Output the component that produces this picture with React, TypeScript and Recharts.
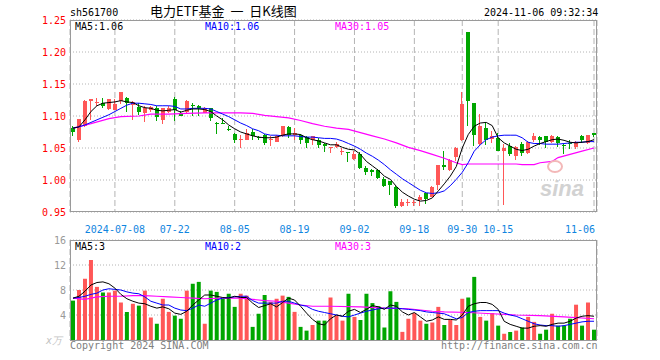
import React from "react";
import {
  ComposedChart,
  Bar,
  Line,
  XAxis,
  YAxis,
  CartesianGrid,
  Cell,
} from "recharts";

// trading days shown (2024-06-27 .. 2024-11-06)
const dates = [
  "2024-06-27", "2024-06-28",
  "2024-07-01", "2024-07-02", "2024-07-03", "2024-07-04", "2024-07-05",
  "2024-07-08", "2024-07-09", "2024-07-10", "2024-07-11", "2024-07-12",
  "2024-07-15", "2024-07-16", "2024-07-17", "2024-07-18", "2024-07-19",
  "2024-07-22", "2024-07-23", "2024-07-24", "2024-07-25", "2024-07-26",
  "2024-07-29", "2024-07-30", "2024-07-31", "2024-08-01", "2024-08-02",
  "2024-08-05", "2024-08-06", "2024-08-07", "2024-08-08", "2024-08-09",
  "2024-08-12", "2024-08-13", "2024-08-14", "2024-08-15", "2024-08-16",
  "2024-08-19", "2024-08-20", "2024-08-21", "2024-08-22", "2024-08-23",
  "2024-08-26", "2024-08-27", "2024-08-28", "2024-08-29", "2024-08-30",
  "2024-09-02", "2024-09-03", "2024-09-04", "2024-09-05", "2024-09-06",
  "2024-09-09", "2024-09-10", "2024-09-11", "2024-09-12", "2024-09-13",
  "2024-09-18", "2024-09-19", "2024-09-20",
  "2024-09-23", "2024-09-24", "2024-09-25", "2024-09-26", "2024-09-27",
  "2024-09-30",
  "2024-10-08", "2024-10-09", "2024-10-10", "2024-10-11",
  "2024-10-14", "2024-10-15", "2024-10-16", "2024-10-17", "2024-10-18",
  "2024-10-21", "2024-10-22", "2024-10-23", "2024-10-24", "2024-10-25",
  "2024-10-28", "2024-10-29", "2024-10-30", "2024-10-31", "2024-11-01",
  "2024-11-04", "2024-11-05", "2024-11-06",
];

const dateTicks = [
  "2024-07-08", "2024-07-22", "2024-08-05", "2024-08-19", "2024-09-02",
  "2024-09-18", "2024-09-30", "2024-10-15", "2024-11-06",
];

const opens = [
  1.082, 1.063, 1.084, 1.124, 1.121, 1.12, 1.111, 1.11, 1.124, 1.128, 1.117,
  1.114, 1.104, 1.11, 1.112, 1.094, 1.106, 1.126, 1.104, 1.107, 1.117, 1.116,
  1.105, 1.112, 1.089, 1.089, 1.08, 1.072, 1.062, 1.063, 1.075, 1.067, 1.071,
  1.062, 1.06, 1.068, 1.083, 1.071, 1.071, 1.067, 1.062, 1.063, 1.057, 1.05,
  1.052, 1.044, 1.044, 1.033, 1.041, 1.019, 1.016, 1.015, 1.002, 0.998, 0.989,
  0.959, 0.965, 0.965, 0.968, 0.979, 0.974, 0.992, 1.024, 1.015, 1.036, 1.062,
  1.232, 1.121, 1.057, 1.082, 1.064, 1.066, 1.046, 1.053, 1.038, 1.057, 1.042,
  1.062, 1.067, 1.068, 1.059, 1.067, 1.055, 1.058, 1.051, 1.069, 1.058, 1.073,
];
const highs = [
  1.085, 1.096, 1.125, 1.127, 1.128, 1.128, 1.127, 1.127, 1.138, 1.129, 1.123,
  1.12, 1.115, 1.116, 1.115, 1.113, 1.116, 1.129, 1.108, 1.125, 1.121, 1.117,
  1.114, 1.113, 1.09, 1.097, 1.085, 1.074, 1.071, 1.079, 1.079, 1.069, 1.072,
  1.068, 1.07, 1.085, 1.085, 1.081, 1.072, 1.068, 1.069, 1.065, 1.058, 1.051,
  1.059, 1.05, 1.044, 1.045, 1.043, 1.022, 1.017, 1.017, 1.004, 0.999, 0.991,
  0.97, 0.971, 0.968, 0.976, 0.98, 0.991, 1.024, 1.046, 1.033, 1.051, 1.137,
  1.232, 1.121, 1.103, 1.089, 1.076, 1.073, 1.057, 1.058, 1.053, 1.059, 1.061,
  1.073, 1.068, 1.069, 1.07, 1.068, 1.057, 1.063, 1.061, 1.07, 1.071, 1.074,
];
const lows = [
  1.069, 1.059, 1.083, 1.094, 1.115, 1.112, 1.11, 1.109, 1.118, 1.107, 1.094,
  1.102, 1.091, 1.106, 1.092, 1.087, 1.105, 1.092, 1.102, 1.105, 1.1, 1.1,
  1.104, 1.092, 1.072, 1.087, 1.076, 1.058, 1.05, 1.062, 1.063, 1.063, 1.055,
  1.053, 1.059, 1.067, 1.066, 1.063, 1.056, 1.05, 1.055, 1.05, 1.044, 1.042,
  1.05, 1.039, 1.028, 1.032, 1.017, 1.008, 1.006, 1.002, 0.989, 0.976, 0.956,
  0.958, 0.96, 0.96, 0.959, 0.963, 0.973, 0.985, 1.016, 1.014, 1.029, 1.061,
  1.084, 1.053, 1.054, 1.054, 1.058, 1.045, 0.961, 1.038, 1.031, 1.037, 1.04,
  1.06, 1.055, 1.05, 1.058, 1.052, 1.04, 1.048, 1.048, 1.058, 1.056, 1.067,
];
const closes = [
  1.075, 1.096, 1.124, 1.127, 1.122, 1.115, 1.126, 1.119, 1.138, 1.12, 1.122,
  1.107, 1.112, 1.114, 1.099, 1.112, 1.112, 1.109, 1.1, 1.123, 1.115, 1.112,
  1.113, 1.097, 1.088, 1.088, 1.078, 1.062, 1.064, 1.074, 1.068, 1.065, 1.058,
  1.064, 1.069, 1.084, 1.071, 1.073, 1.063, 1.058, 1.068, 1.055, 1.053, 1.051,
  1.056, 1.045, 1.043, 1.04, 1.019, 1.012, 1.012, 1.003, 0.99, 0.992, 0.96,
  0.965, 0.966, 0.966, 0.974, 0.97, 0.989, 1.024, 1.02, 1.032, 1.05, 1.119,
  1.124, 1.071, 1.085, 1.063, 1.068, 1.046, 1.05, 1.04, 1.051, 1.042, 1.06,
  1.068, 1.063, 1.059, 1.069, 1.058, 1.053, 1.057, 1.059, 1.063, 1.071, 1.071,
];

// volume, 万手
const volumes = [
  6.3, 8.0, 9.8, 12.8, 8.5, 7.6, 7.6, 7.9, 6.0, 4.5, 5.8, 5.5, 7.9, 3.6, 2.6,
  6.6, 4.5, 3.9, 3.4, 7.9, 9.0, 9.3, 2.6, 7.9, 7.7, 6.6, 7.4, 5.3, 7.4, 7.1,
  2.1, 4.2, 7.2, 6.1, 6.6, 7.1, 6.9, 4.5, 2.1, 1.5, 2.4, 3.1, 3.1, 6.8, 3.9,
  3.1, 7.4, 3.7, 3.2, 7.4, 5.9, 5.4, 2.0, 7.8, 6.1, 1.3, 3.4, 4.3, 3.1, 2.6,
  2.8, 5.3, 2.4, 3.2, 2.4, 6.6, 6.8, 10.1, 3.7, 3.1, 4.3, 2.3, 1.0, 1.3, 1.5,
  2.0, 3.7, 2.9, 1.0, 1.65, 4.2, 2.3, 2.3, 3.4, 5.65, 2.3, 6.0, 1.65,
];

const ma5 = [
  1.081, 1.083, 1.094, 1.107, 1.116, 1.12, 1.121, 1.122, 1.124, 1.122, 1.121,
  1.116, 1.113, 1.112, 1.109, 1.108, 1.109, 1.11, 1.106, 1.109, 1.111, 1.111,
  1.11, 1.107, 1.1, 1.094, 1.086, 1.08, 1.075, 1.072, 1.069, 1.067, 1.066,
  1.066, 1.067, 1.07, 1.072, 1.072, 1.071, 1.066, 1.063, 1.061, 1.058, 1.055,
  1.055, 1.051, 1.048, 1.047, 1.04, 1.029, 1.022, 1.015, 1.006, 1.001, 0.99,
  0.981, 0.975, 0.97, 0.967, 0.968, 0.972, 0.983, 0.994, 1.006, 1.021, 1.05,
  1.071, 1.084, 1.089, 1.09, 1.085, 1.066, 1.058, 1.053, 1.048, 1.046, 1.048,
  1.053, 1.057, 1.06, 1.063, 1.064, 1.062, 1.059, 1.058, 1.059, 1.06, 1.063,
];
const ma10 = [
  1.081, 1.083, 1.086, 1.09, 1.094, 1.098, 1.102, 1.107, 1.112, 1.117, 1.12,
  1.12, 1.119, 1.118, 1.116, 1.116, 1.116, 1.115, 1.111, 1.111, 1.112, 1.112,
  1.112, 1.111, 1.107, 1.103, 1.099, 1.094, 1.089, 1.085, 1.08, 1.077, 1.072,
  1.07, 1.07, 1.069, 1.069, 1.069, 1.068, 1.067, 1.067, 1.066, 1.065, 1.065,
  1.064, 1.061, 1.057, 1.053, 1.048, 1.042, 1.037, 1.031, 1.024, 1.016, 1.009,
  1.002, 0.996, 0.99, 0.984, 0.98, 0.979, 0.98, 0.983, 0.991, 1.001, 1.012,
  1.027, 1.045, 1.055, 1.063, 1.067, 1.069, 1.07, 1.07, 1.07, 1.066, 1.059,
  1.057, 1.057, 1.056, 1.056, 1.056, 1.057, 1.058, 1.059, 1.059, 1.06, 1.06,
];
// [day index, value] read where the line is clear
const ma30: [number, number][] = [
  [0, 1.081], [3, 1.088], [6, 1.096], [8, 1.099], [11, 1.1], [13, 1.103],
  [16, 1.103], [19, 1.104], [22, 1.105], [25, 1.105], [28, 1.105],
  [30, 1.104], [32, 1.101], [34, 1.099], [36, 1.097], [38, 1.093],
  [40, 1.088], [42, 1.084], [44, 1.081], [46, 1.079], [48, 1.074],
  [50, 1.069], [52, 1.064], [54, 1.058], [56, 1.051], [58, 1.046],
  [60, 1.04], [62, 1.034], [64, 1.027], [65, 1.024], [66, 1.025],
  [70, 1.025], [74, 1.025], [75, 1.024], [77, 1.024], [78, 1.027],
  [80, 1.029], [81, 1.035], [83, 1.04], [85, 1.045], [87, 1.05],
];

const volMa5 = [
  6.7, 7.0, 7.8, 8.8, 9.2, 9.3, 9.0, 8.3, 7.3, 6.6, 6.2, 5.9, 5.8, 5.4, 5.1,
  5.3, 5.0, 4.3, 4.1, 4.6, 5.6, 6.4, 7.2, 7.2, 7.0, 6.8, 6.7, 7.0, 6.8, 6.8,
  5.9, 5.2, 5.5, 5.8, 5.3, 6.0, 6.7, 6.4, 5.4, 4.3, 3.3, 2.6, 2.4, 3.4, 4.0,
  3.8, 4.6, 4.9, 4.4, 4.9, 5.5, 5.3, 4.9, 5.6, 5.4, 4.5, 4.0, 4.4, 3.7, 3.0,
  3.2, 3.7, 3.3, 3.3, 3.2, 4.0, 5.4, 5.8, 6.0, 6.0, 5.7, 4.9, 3.0, 2.5, 2.2,
  1.9, 1.9, 2.2, 2.3, 2.2, 2.5, 2.7, 2.7, 3.0, 3.5, 3.8, 3.9, 3.8,
];
const volMa10 = [
  6.7, 6.8, 7.0, 7.3, 7.5, 8.0, 8.2, 8.1, 8.0, 7.7, 7.5, 7.4, 6.9, 6.2, 5.9,
  5.6, 5.6, 5.1, 4.8, 4.7, 5.1, 5.6, 5.4, 5.9, 6.4, 6.7, 6.8, 6.9, 7.0, 7.0,
  6.3, 5.9, 5.9, 5.9, 5.9, 6.2, 6.2, 5.9, 5.6, 5.4, 4.9, 4.6, 4.4, 4.2, 4.0,
  3.8, 3.7, 4.0, 4.3, 4.6, 4.8, 5.0, 5.1, 5.1, 5.1, 5.0, 4.9, 4.8, 4.7, 4.5,
  4.4, 4.3, 4.2, 3.8, 3.4, 3.6, 4.4, 4.6, 4.7, 4.7, 4.7, 4.7, 4.3, 4.0, 3.8,
  3.4, 3.0, 2.6, 2.4, 2.3, 2.3, 2.2, 2.3, 2.5, 2.7, 2.9, 3.0, 3.0,
];
const volMa30: [number, number][] = [
  [0, 6.7], [2, 6.5], [4, 6.9], [6, 7.0], [8, 7.0], [10, 7.1], [12, 7.1],
  [14, 7.0], [16, 6.9], [18, 6.8], [20, 6.7], [22, 6.6], [25, 6.7],
  [28, 6.7], [30, 6.5], [32, 6.3], [34, 6.2], [36, 5.9], [38, 5.6],
  [40, 5.4], [43, 5.4], [48, 5.3], [52, 5.1], [56, 5.0], [58, 4.8],
  [60, 4.6], [62, 4.5], [66, 4.4], [70, 4.2], [74, 4.0], [78, 3.9],
  [82, 3.7], [87, 3.4],
];

const priceTicks = [0.95, 1.0, 1.05, 1.1, 1.15, 1.2, 1.25];
const volumeTicks = [0, 4, 8, 12, 16];

const RED = "#ff5757";
const GREEN = "#00a600";
const MONO = "'DejaVu Sans Mono', monospace";
const GRID = "#b4b4b4";
const BORDER = "#9a9a9a";

const ma30ByDay = new Map(ma30);
const volMa30ByDay = new Map(volMa30);

const rows = dates.map((date, i) => ({
  date,
  open: opens[i],
  high: highs[i],
  low: lows[i],
  close: closes[i],
  vol: volumes[i],
  ma5: ma5[i],
  ma10: ma10[i],
  ma30: ma30ByDay.get(i) ?? null,
  vma5: volMa5[i],
  vma10: volMa10[i],
  vma30: volMa30ByDay.get(i) ?? null,
}));

const colorOf = (r: { open: number; close: number }) =>
  r.close >= r.open ? RED : GREEN;

function Candle(props: any) {
  const { x, width, payload } = props;
  let { y, height } = props;
  if (height < 0) {
    y += height;
    height = -height;
  }
  const { open, close, high, low } = payload;
  const k = high > low ? height / (high - low) : 0;
  const yOf = (v: number) => y + (high - v) * k;
  const top = yOf(Math.max(open, close));
  const bottom = yOf(Math.min(open, close));
  const cx = Math.round(x + width / 2) - 0.5;
  const color = colorOf(payload);
  return (
    <g shapeRendering="crispEdges">
      <line x1={cx} x2={cx} y1={y} y2={y + height} stroke={color} />
      <rect
        x={x}
        y={top}
        width={width}
        height={Math.max(1, bottom - top)}
        fill={color}
      />
    </g>
  );
}

function DateTick({ x, y, payload }: any) {
  const v: string = payload.value;
  const first = v === dateTicks[0];
  const last = v === dateTicks[dateTicks.length - 1];
  return (
    <text
      x={last ? x + 1 : x}
      y={y + 13}
      textAnchor={last ? "end" : "middle"}
      fill="#0f85e0"
      fontSize={10}
      fontFamily={MONO}
    >
      {first ? v : v.slice(5)}
    </text>
  );
}

function VolTick({ x, y, payload }: any) {
  if (payload.value === 0) {
    return (
      <text x={x - 4} y={y + 4} textAnchor="end" fill="#c4c4c4" fontSize={10} fontFamily={MONO} fontStyle="italic">
        x万
      </text>
    );
  }
  return (
    <text x={x} y={y} dy="0.355em" textAnchor="end" fill="#999" fontSize={10} fontFamily={MONO}>
      {payload.value}
    </text>
  );
}

const abs = (left: number, top: number, extra: React.CSSProperties = {}): React.CSSProperties => ({
  position: "absolute",
  left,
  top,
  whiteSpace: "pre",
  lineHeight: 1,
  ...extra,
});

export default function App() {
  return (
    <div
      style={{
        position: "absolute",
        left: 0,
        top: 0,
        width: 660,
        height: 360,
        background: "#fff",
        fontFamily: MONO,
        fontSize: 10,
        overflow: "hidden",
      }}
    >
      <div style={abs(70, 8)}>sh561700</div>
      <div style={abs(150, 4, { fontFamily: "'Noto Sans CJK SC', sans-serif", fontSize: 13 })}>
        {"电力ETF基金  一  日K线图"}
      </div>
      <div style={abs(484, 8)}>2024-11-06 09:32:34</div>

      <div style={{ position: "absolute", left: 0, top: 0 }}>
        <ComposedChart
          width={660}
          height={240}
          data={rows}
          margin={{ top: 20, right: 63, bottom: 0, left: 10 }}
          barCategoryGap={1}
        >
          <CartesianGrid vertical={false} stroke={GRID} strokeDasharray="1 2" />
          <CartesianGrid horizontal={false} stroke={GRID} strokeDasharray="6 3" />
          <XAxis
            dataKey="date"
            ticks={dateTicks}
            interval={0}
            tickLine={false}
            axisLine={false}
            height={28}
            tick={<DateTick />}
          />
          <YAxis
            domain={[0.95, 1.25]}
            ticks={priceTicks}
            allowDataOverflow
            width={60}
            tickSize={0}
            tickMargin={4}
            tickLine={false}
            axisLine={false}
            tickFormatter={(v: number) => v.toFixed(2)}
            tick={{ fill: "#f00", fontSize: 10, fontFamily: MONO }}
          />
          <Bar
            dataKey={(r: any) => [r.low, r.high]}
            shape={(p: any) => <Candle {...p} />}
            isAnimationActive={false}
          />
          <Line dataKey="ma30" stroke="#ff00ff" strokeWidth={1.2} dot={false} connectNulls isAnimationActive={false} />
          <Line dataKey="ma10" stroke="#0000ff" strokeWidth={1} dot={false} isAnimationActive={false} />
          <Line dataKey="ma5" stroke="#000" strokeWidth={1} dot={false} isAnimationActive={false} />
        </ComposedChart>
      </div>
      <div style={abs(70, 20, { width: 527, height: 192, border: `1px solid ${BORDER}`, boxSizing: "border-box" })} />
      <div style={abs(75, 22)}>MA5:1.06</div>
      <div style={abs(205, 22, { color: "#0000ff" })}>MA10:1.06</div>
      <div style={abs(335, 22, { color: "#ff00ff" })}>MA30:1.05</div>
      <div style={abs(540, 178, { fontFamily: "'Liberation Sans', sans-serif", fontSize: 22, fontWeight: 700, fontStyle: "italic", color: "#d2d2d2" })}>
        sina
      </div>
      <div style={abs(547, 160, { width: 12, height: 9, borderRadius: "50%", border: "2px solid #f3b8b8" })} />

      <div style={{ position: "absolute", left: 0, top: 230 }}>
        <ComposedChart
          width={660}
          height={130}
          data={rows}
          margin={{ top: 10, right: 63, bottom: 20, left: 10 }}
          barCategoryGap={1}
        >
          <CartesianGrid vertical={false} stroke={GRID} strokeDasharray="1 2" />
          <CartesianGrid horizontal={false} stroke={GRID} strokeDasharray="6 3" />
          <XAxis
            dataKey="date"
            ticks={dateTicks}
            interval={0}
            tick={false}
            tickLine={false}
            axisLine={false}
            height={0}
          />
          <YAxis
            domain={[0, 16]}
            ticks={volumeTicks}
            allowDataOverflow
            width={60}
            tickSize={0}
            tickMargin={4}
            tickLine={false}
            axisLine={false}
            tick={<VolTick />}
          />
          <Bar dataKey="vol" isAnimationActive={false}>
            {rows.map((r, i) => (
              <Cell key={`v-${i}`} fill={colorOf(r)} />
            ))}
          </Bar>
          <Line dataKey="vma30" stroke="#ff00ff" strokeWidth={1.2} dot={false} connectNulls isAnimationActive={false} />
          <Line dataKey="vma10" stroke="#0000ff" strokeWidth={1} dot={false} isAnimationActive={false} />
          <Line dataKey="vma5" stroke="#000" strokeWidth={1} dot={false} isAnimationActive={false} />
        </ComposedChart>
      </div>
      <div style={abs(70, 240, { width: 527, height: 101, border: `1px solid ${BORDER}`, boxSizing: "border-box" })} />
      <div style={abs(75, 242)}>MA5:3</div>
      <div style={abs(205, 242, { color: "#0000ff" })}>MA10:2</div>
      <div style={abs(335, 242, { color: "#ff00ff" })}>MA30:3</div>
      <div style={abs(70, 341, { color: "#808080" })}>Copyright 2024 SINA.COM</div>
      <div style={abs(441, 341, { color: "#808080" })}>http://finance.sina.com.cn</div>
    </div>
  );
}
